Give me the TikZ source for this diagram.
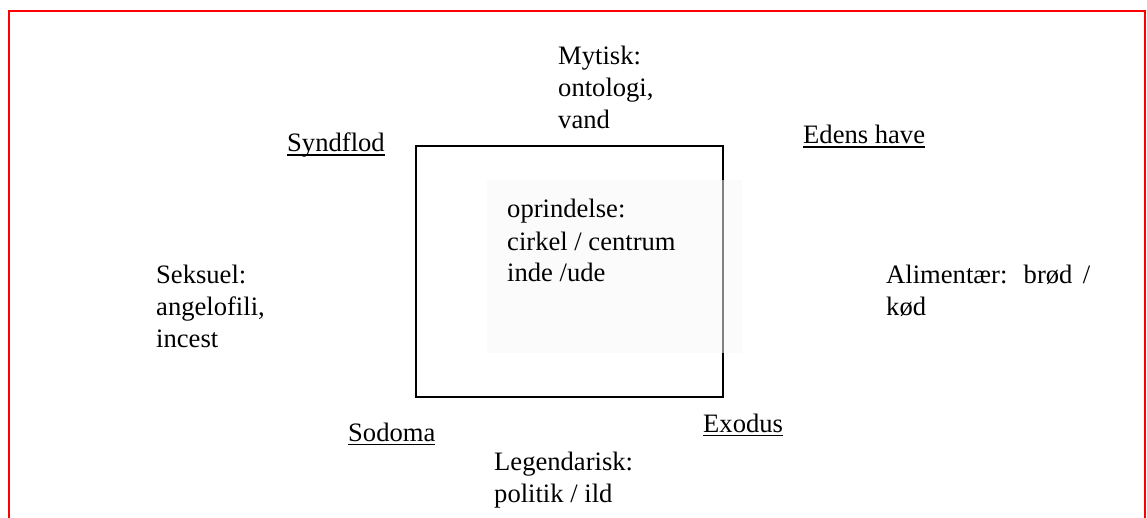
\documentclass[tikz,border=0pt]{standalone}
\usepackage{fontspec}
\setmainfont{Liberation Serif}
\newcommand{\wordul}[1]{\setbox0\hbox{#1}\rlap{\rule[-4pt]{\wd0}{1.5pt}}\box0}
\tikzset{
  lbl/.style={anchor=base west, inner sep=0pt, align=left, font=\fontsize{26.6}{32}\selectfont},
}
\begin{document}
\begin{tikzpicture}[x=1pt,y=-1pt]
    \useasboundingbox (0,0) rectangle (1147,518);
    % Red frame, open at the bottom
    \begin{scope}
        \clip (0,0) rectangle (1147,518);
        \draw[red, line width=2.2pt] (9,540) -- (9,11) -- (1145,11) -- (1145,540);
    \end{scope}

    % Square and the shaded field over it
    \draw[line width=2pt] (416,146) rectangle (723,397);
    \fill[gray!6, opacity=.53] (487,180) rectangle (742,353);

    % Texts round the square (placed at the baseline of their last line)
    \node[lbl] (myth) at (558,129) {Mytisk:\\ontologi,\\vand};
    \node[lbl] (origin) at (507,282) {oprindelse:\\cirkel / centrum\\inde /ude};
    \node[lbl] (sex) at (156,347) {Seksuel:\\angelofili,\\incest};
    \node[lbl] (food) at (886,315) {\makebox[204pt][s]{Alimentær: brød /}\\kød};
    \node[lbl] (legend) at (494,502) {Legendarisk:\\politik / ild};

    % Underlined corner names
    \node[lbl] (flood) at (287,152) {\wordul{Syndflod}};
    \node[lbl] (eden) at (803,144) {\wordul{Edens have}};
    \node[lbl] (sodom) at (348,441) {\wordul{Sodoma}};
    \node[lbl] (exodus) at (703,432) {\wordul{Exodus}};
\end{tikzpicture}
\end{document}
